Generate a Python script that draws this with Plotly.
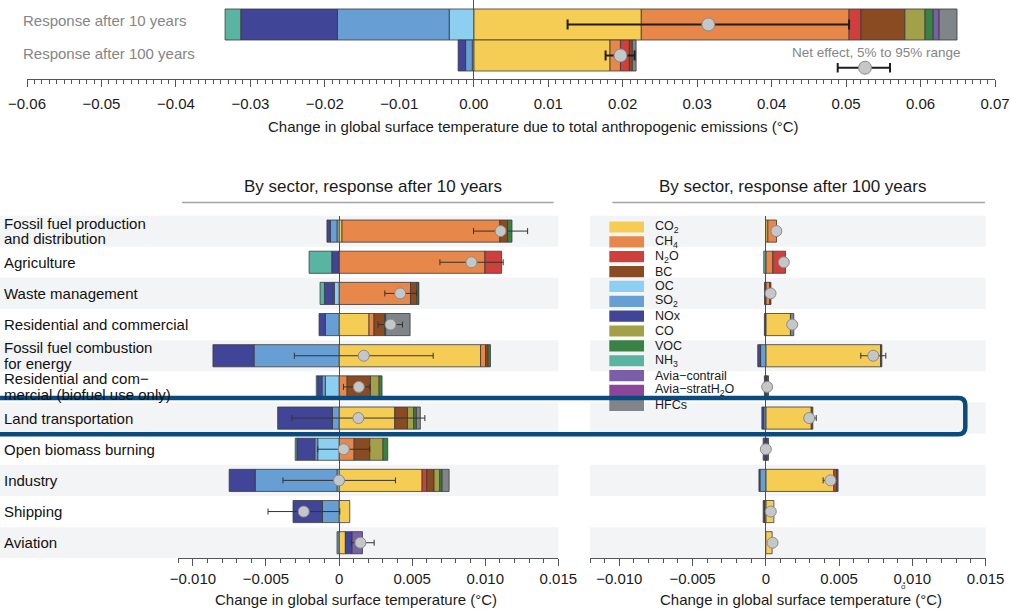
import plotly.graph_objects as go

W, H = 1011, 610


def px(x):
    return x / W


def py(y):
    return 1 - y / H


FONT = "Liberation Sans, Arial, sans-serif"

# ---------------- species (legend order) ----------------
species = ["CO2", "CH4", "N2O", "BC", "OC", "SO2", "NOx", "CO", "VOC", "NH3",
           "Avia-contrail", "Avia-stratH2O", "HFCs"]
species_labels = ["CO<sub>2</sub>", "CH<sub>4</sub>", "N<sub>2</sub>O", "BC", "OC",
                  "SO<sub>2</sub>", "NOx", "CO", "VOC", "NH<sub>3</sub>",
                  "Avia\u2212contrail", "Avia\u2212stratH<sub>2</sub>O", "HFCs"]
species_colors = ["#f5cd55", "#e8874a", "#cf3f3c", "#8a4a22", "#8ccff0", "#679ed3",
                  "#414597", "#a2a049", "#3a8146", "#59b5a2", "#7a5ea6", "#8b4699",
                  "#7f8589"]

# ---------------- top panel: total anthropogenic emissions ----------------
total_rows = ["Response after 10 years", "Response after 100 years"]
total_CO2 = [0.0225, 0.0183]
total_CH4 = [0.0279, 0.0014]
total_N2O = [0.0016, 0.0012]
total_BC = [0.0059, 0.0004]
total_OC = [-0.0033, -0.0002]
total_SO2 = [-0.0150, -0.0009]
total_NOx = [-0.0130, -0.0010]
total_CO = [0.0027, 0.0]
total_VOC = [0.0011, 0.0]
total_NH3 = [-0.0021, 0.0]
total_contrail = [0.0008, 0.0]
total_stratH2O = [0.0, 0.0]
total_HFCs = [0.0024, 0.0005]
total_net = [0.0315, 0.0197]
total_low = [0.0126, 0.0177]
total_high = [0.0504, 0.0216]

top_ticks = [-0.06, -0.05, -0.04, -0.03, -0.02, -0.01, 0.0, 0.01, 0.02, 0.03, 0.04, 0.05, 0.06, 0.07]
sector_ticks = [-0.010, -0.005, 0.0, 0.005, 0.010, 0.015]

# ---------------- sectors ----------------
sectors = ["Fossil fuel production and distribution", "Agriculture", "Waste management",
           "Residential and commercial", "Fossil fuel combustion for energy",
           "Residential and commercial (biofuel use only)", "Land transportation",
           "Open biomass burning", "Industry", "Shipping", "Aviation"]
sector_label_lines = [["Fossil fuel production", "and distribution"], ["Agriculture"],
                      ["Waste management"], ["Residential and commercial"],
                      ["Fossil fuel combustion", "for energy"],
                      ["Residential and com\u2212", "mercial (biofuel use only)"],
                      ["Land transportation"], ["Open biomass burning"], ["Industry"],
                      ["Shipping"], ["Aviation"]]

# response after 10 years
s10_CO2 = [0.0002, 0, 0, 0.00205, 0.00968, 0, 0.00381, 0, 0.00568, 0.00073, 0.00043]
s10_CH4 = [0.0108, 0.00998, 0.00489, 0.00034, 0.00034, 0.00055, 0, 0.00103, 0, 0, 0]
s10_N2O = [0, 0.00114, 0, 0, 0, 0, 0, 0, 0.00032, 0, 0]
s10_BC = [0.00053, 0, 0.00041, 0.00073, 0.00018, 0.0016, 0.00087, 0.00107, 0.0005, 0, 0]
s10_OC = [-0.00014, 0, -0.00032, 0, 0, -0.00094, 0, -0.00146, -0.00014, 0, 0]
s10_SO2 = [-0.00046, 0, -0.00009, -0.00094, -0.00582, -0.00023, -0.00046, -0.0002, -0.0056, -0.00114, -0.00014]
s10_NOx = [-0.00023, -0.0005, -0.00059, -0.00043, -0.00281, -0.0003, -0.00374, -0.00123, -0.00178, -0.00201, 0.00046]
s10_CO = [0, 0, 0.0001, 0, 0, 0.00059, 0.00043, 0.00091, 0.00039, 0, 0]
s10_VOC = [0.0003, 0, 0.00006, 0.00007, 0.00016, 0.0002, 0.00018, 0.00032, 0.00016, 0, 0]
s10_NH3 = [0, -0.00155, -0.0003, 0, 0, -0.00009, 0, -0.00011, 0, 0, 0]
s10_contrail = [0, 0, 0, 0, 0, 0, 0, 0, 0, 0, 0.00071]
s10_stratH2O = [0, 0, 0, 0, 0, 0, 0, 0, 0, 0, 0]
s10_HFCs = [0, 0, 0, 0.00167, 0, 0, 0.00027, 0, 0.00048, 0, 0]
s10_net = [0.01105, 0.00906, 0.00418, 0.00352, 0.00169, 0.00135, 0.00132, 0.00032, 0.0, -0.00242, 0.00146]
s10_low = [0.0092, 0.0069, 0.00313, 0.00267, -0.00306, 0.0003, -0.00322, -0.00146, -0.00384, -0.00486, 0.00084]
s10_high = [0.0129, 0.01123, 0.0053, 0.00434, 0.00644, 0.0021, 0.00587, 0.0021, 0.00386, 0.00005, 0.0024]

# response after 100 years
s100_CO2 = [0.00014, 0, 0, 0.00168, 0.00783, 0, 0.0031, 0, 0.00464, 0.00055, 0.00043]
s100_CH4 = [0.00059, 0.00048, 0.00027, 0, 0, 0.00006, 0, 0.00006, 0, 0, 0]
s100_N2O = [0, 0.00086, 0, 0, 0, 0, 0, 0, 0.00018, 0, 0]
s100_BC = [0, 0, 0.00008, 0, 0.00009, 0.00012, 0.00011, 0.00012, 0.00011, 0, 0]
s100_OC = [0, 0, 0, 0, 0, 0, 0, 0, 0, 0, 0]
s100_SO2 = [0, 0, 0, 0, -0.00036, 0, -0.00014, 0, -0.0004, -0.00009, 0]
s100_NOx = [0, 0, -0.00009, -0.0001, -0.00019, -0.0001, -0.00013, -0.00018, -0.00007, -0.00009, 0]
s100_CO = [0, 0, 0, 0, 0, 0, 0, 0, 0, 0, 0]
s100_VOC = [0, 0, 0, 0, 0, 0, 0, 0, 0, 0, 0]
s100_NH3 = [0, -0.00014, 0, 0, 0, 0, 0, 0, 0, 0, 0]
s100_contrail = [0, 0, 0, 0, 0, 0, 0, 0, 0, 0, 0]
s100_stratH2O = [0, 0, 0, 0, 0, 0, 0, 0, 0, 0, 0]
s100_HFCs = [0, 0, 0, 0.00023, 0, 0, 0, 0, 0, 0, 0]
s100_net = [0.00072, 0.00123, 0.00032, 0.0018, 0.00733, 0.00009, 0.00296, 0.0, 0.00441, 0.00034, 0.00046]
s100_low = [0.00072, 0.00123, 0.00032, 0.0018, 0.00648, 0.00009, 0.00266, 0.0, 0.00391, 0.00034, 0.00046]
s100_high = [0.00072, 0.00123, 0.00032, 0.0018, 0.00819, 0.00009, 0.00344, 0.0, 0.0047, 0.00034, 0.00046]

total_by_species = [total_CO2, total_CH4, total_N2O, total_BC, total_OC, total_SO2, total_NOx,
                    total_CO, total_VOC, total_NH3, total_contrail, total_stratH2O, total_HFCs]
s10_by_species = [s10_CO2, s10_CH4, s10_N2O, s10_BC, s10_OC, s10_SO2, s10_NOx, s10_CO,
                  s10_VOC, s10_NH3, s10_contrail, s10_stratH2O, s10_HFCs]
s100_by_species = [s100_CO2, s100_CH4, s100_N2O, s100_BC, s100_OC, s100_SO2, s100_NOx, s100_CO,
                   s100_VOC, s100_NH3, s100_contrail, s100_stratH2O, s100_HFCs]


def nz(vals):
    return [v if v != 0 else None for v in vals]


def fmt_tick(v, nd):
    if abs(v) < 1e-12:
        return "0" if nd == 3 else "0.00"
    return f"{v:.{nd}f}".replace("-", "\u2212")


fig = go.Figure()

OUTLINE = dict(color="#3a3a3a", width=0.8)

# ---- top bars ----
for name, vals, col in zip(species, total_by_species, species_colors):
    fig.add_trace(go.Bar(x=nz(vals), y=total_rows, orientation="h", width=1.0,
                         marker=dict(color=col, line=OUTLINE), name=name,
                         showlegend=False, xaxis="x", yaxis="y", hoverinfo="skip"))
fig.add_trace(go.Scatter(
    x=total_net, y=total_rows, mode="markers", xaxis="x", yaxis="y", showlegend=False,
    marker=dict(size=13, color="#c5c6c8", line=dict(color="#8a8a8a", width=1)),
    error_x=dict(type="data", symmetric=False,
                 array=[h - n for h, n in zip(total_high, total_net)],
                 arrayminus=[n - l for n, l in zip(total_net, total_low)],
                 color="#1e1e1e", thickness=2, width=5)))

# ---- sector bars ----
ys = list(range(len(sectors)))
for xa, ya, data, net, low, high in [("x2", "y2", s10_by_species, s10_net, s10_low, s10_high),
                                     ("x3", "y3", s100_by_species, s100_net, s100_low, s100_high)]:
    for name, vals, col in zip(species, data, species_colors):
        fig.add_trace(go.Bar(x=nz(vals), y=ys, orientation="h", width=0.71,
                             marker=dict(color=col, line=OUTLINE), name=name,
                             showlegend=False, xaxis=xa, yaxis=ya, hoverinfo="skip"))
    fig.add_trace(go.Scatter(
        x=net, y=ys, mode="markers", xaxis=xa, yaxis=ya, showlegend=False,
        marker=dict(size=11, color="#c5c6c8", line=dict(color="#8a8a8a", width=1)),
        error_x=dict(type="data", symmetric=False,
                     array=[h - n for h, n in zip(high, net)],
                     arrayminus=[n - l for n, l in zip(net, low)],
                     color="#333333", thickness=1, width=3)))

AX = dict(showline=True, linecolor="#555555", linewidth=1, ticks="outside", ticklen=7,
          tickwidth=1, tickcolor="#555555", showgrid=False, zeroline=True,
          zerolinecolor="#505050", zerolinewidth=1, automargin=False,
          tickfont=dict(size=15, color="#1a1a1a", family=FONT),
          minor=dict(dtick=0.001, tick0=0, ticks="outside", ticklen=4, tickcolor="#555555",
                     showgrid=False),
          fixedrange=True)
YAX = dict(showline=False, showticklabels=False, ticks="", showgrid=False, zeroline=False,
           fixedrange=True, automargin=False)

row_top, row_bot = 215.5, 558.3
row_h = (row_bot - row_top) / len(sectors)

fig.update_layout(
    template="none",
    width=W, height=H, autosize=False, margin=dict(l=0, r=0, t=0, b=0, pad=0),
    paper_bgcolor="white", plot_bgcolor="rgba(0,0,0,0)", barmode="relative",
    font=dict(family=FONT, color="#1a1a1a"),
    xaxis=dict(AX, domain=[px(27), px(995)], range=[-0.06, 0.07], anchor="y",
               tickvals=top_ticks, ticktext=[fmt_tick(v, 2) for v in top_ticks],
               ticklabelstandoff=4),
    yaxis=dict(YAX, domain=[py(79), 1], type="category", categoryorder="array",
               categoryarray=total_rows[::-1], range=[-0.758, 1.79], anchor="x"),
    xaxis2=dict(AX, domain=[px(178.3), px(558.3)], range=[-0.011, 0.015], anchor="y2",
                tickvals=sector_ticks, ticktext=[fmt_tick(v, 3) for v in sector_ticks]),
    yaxis2=dict(YAX, domain=[py(row_bot), py(row_top)], range=[len(sectors) - 0.5, -0.5],
                anchor="x2"),
    xaxis3=dict(AX, domain=[px(590), px(985.6)], range=[-0.012, 0.015], anchor="y3",
                tickvals=sector_ticks, ticktext=[fmt_tick(v, 3) for v in sector_ticks]),
    yaxis3=dict(YAX, domain=[py(row_bot), py(row_top)], range=[len(sectors) - 0.5, -0.5],
                anchor="x3"),
)

shapes = []
annotations = []

# alternating row bands
for i in range(0, len(sectors), 2):
    shapes.append(dict(type="rect", xref="paper", yref="y2", x0=0, x1=px(558.3),
                       y0=i - 0.5, y1=i + 0.5, fillcolor="#f3f4f5", line=dict(width=0),
                       layer="below"))
    shapes.append(dict(type="rect", xref="paper", yref="y3", x0=px(590), x1=px(985.6),
                       y0=i - 0.5, y1=i + 0.5, fillcolor="#f3f4f5", line=dict(width=0),
                       layer="below"))

# row labels
for i, lines in enumerate(sector_label_lines):
    yc = row_top + (i + 0.5) * row_h
    offs = [0] if len(lines) == 1 else [-8, 7.5]
    for line, o in zip(lines, offs):
        annotations.append(dict(text=line, xref="paper", yref="paper", x=px(2), y=py(yc + o),
                                xanchor="left", yanchor="middle", showarrow=False,
                                font=dict(size=15, color="#111111", family=FONT)))

# top row labels
for txt, yc in zip(total_rows, [20.5, 53.5]):
    annotations.append(dict(text=txt, xref="paper", yref="paper", x=px(21), y=py(yc),
                            xanchor="left", yanchor="middle", showarrow=False,
                            font=dict(size=15, color="#858585", family=FONT)))

# net effect legend
annotations.append(dict(text="Net effect, 5% to 95% range", xref="paper", yref="paper",
                        x=px(876), y=py(52), xanchor="center", yanchor="middle",
                        showarrow=False, font=dict(size=13.5, color="#858585", family=FONT)))
shapes.append(dict(type="line", xref="paper", yref="paper", x0=px(837.7), x1=px(890),
                   y0=py(67.7), y1=py(67.7), line=dict(color="#1e1e1e", width=2), layer="above"))
for xx in [837.7, 890]:
    shapes.append(dict(type="line", xref="paper", yref="paper", x0=px(xx), x1=px(xx),
                       y0=py(63), y1=py(72.5), line=dict(color="#1e1e1e", width=2), layer="above"))
shapes.append(dict(type="circle", xref="paper", yref="paper", x0=px(858.5), x1=px(871.5),
                   y0=py(61.2), y1=py(74.2), fillcolor="#c5c6c8",
                   line=dict(color="#8a8a8a", width=1), layer="above"))

# axis titles
annotations.append(dict(text="Change in global surface temperature due to total anthropogenic emissions (°C)",
                        xref="paper", yref="paper", x=px(533), y=py(127), xanchor="center",
                        yanchor="middle", showarrow=False,
                        font=dict(size=15, color="#1a1a1a", family=FONT)))
for xc in [356, 800.5]:
    annotations.append(dict(text="Change in global surface temperature (°C)", xref="paper",
                            yref="paper", x=px(xc), y=py(599.5), xanchor="center",
                            yanchor="middle", showarrow=False,
                            font=dict(size=15, color="#1a1a1a", family=FONT)))

# panel titles and underlines
for txt, xc, x0, x1 in [("By sector, response after 10 years", 373, 182, 553.6),
                        ("By sector, response after 100 years", 792.5, 612.3, 985)]:
    annotations.append(dict(text=txt, xref="paper", yref="paper", x=px(xc), y=py(187),
                            xanchor="center", yanchor="middle", showarrow=False,
                            font=dict(size=17, color="#1a1a1a", family=FONT)))
    shapes.append(dict(type="line", xref="paper", yref="paper", x0=px(x0), x1=px(x1),
                       y0=py(202.5), y1=py(202.5), line=dict(color="#a3a3a3", width=1.5)))

# species legend (right panel)
for k, (lab, col) in enumerate(zip(species_labels, species_colors)):
    yc = 227 + k * 14.86
    shapes.append(dict(type="rect", xref="paper", yref="paper", x0=px(609.3), x1=px(644),
                       y0=py(yc - 5.6), y1=py(yc + 5.6), fillcolor=col,
                       line=dict(width=0), layer="above"))
    annotations.append(dict(text=lab, xref="paper", yref="paper", x=px(652.5), y=py(yc),
                            xanchor="left", yanchor="middle", showarrow=False,
                            font=dict(size=12.5, color="#1a1a1a", family=FONT)))

# small stray glyph below the 0.010 tick of the right panel
annotations.append(dict(text="o", xref="paper", yref="paper", x=px(903.5), y=py(586.5),
                        xanchor="center", yanchor="middle", showarrow=False,
                        font=dict(size=8, color="#333333", family=FONT)))

# highlight box around "Land transportation"
xL, xR, yT, yB, r = -10, 965.3, 398, 434.2, 7
path = (f"M {px(xL)},{py(yT)} L {px(xR - r)},{py(yT)} Q {px(xR)},{py(yT)} {px(xR)},{py(yT + r)} "
        f"L {px(xR)},{py(yB - r)} Q {px(xR)},{py(yB)} {px(xR - r)},{py(yB)} L {px(xL)},{py(yB)}")
shapes.append(dict(type="path", xref="paper", yref="paper", path=path,
                   line=dict(color="#0b4a7c", width=4.5), layer="above"))

fig.update_layout(shapes=shapes, annotations=annotations)

fig.write_html("out.html", config={"displayModeBar": False, "staticPlot": True},
               post_script="document.body.style.margin='0px';document.body.style.overflow='hidden';")
